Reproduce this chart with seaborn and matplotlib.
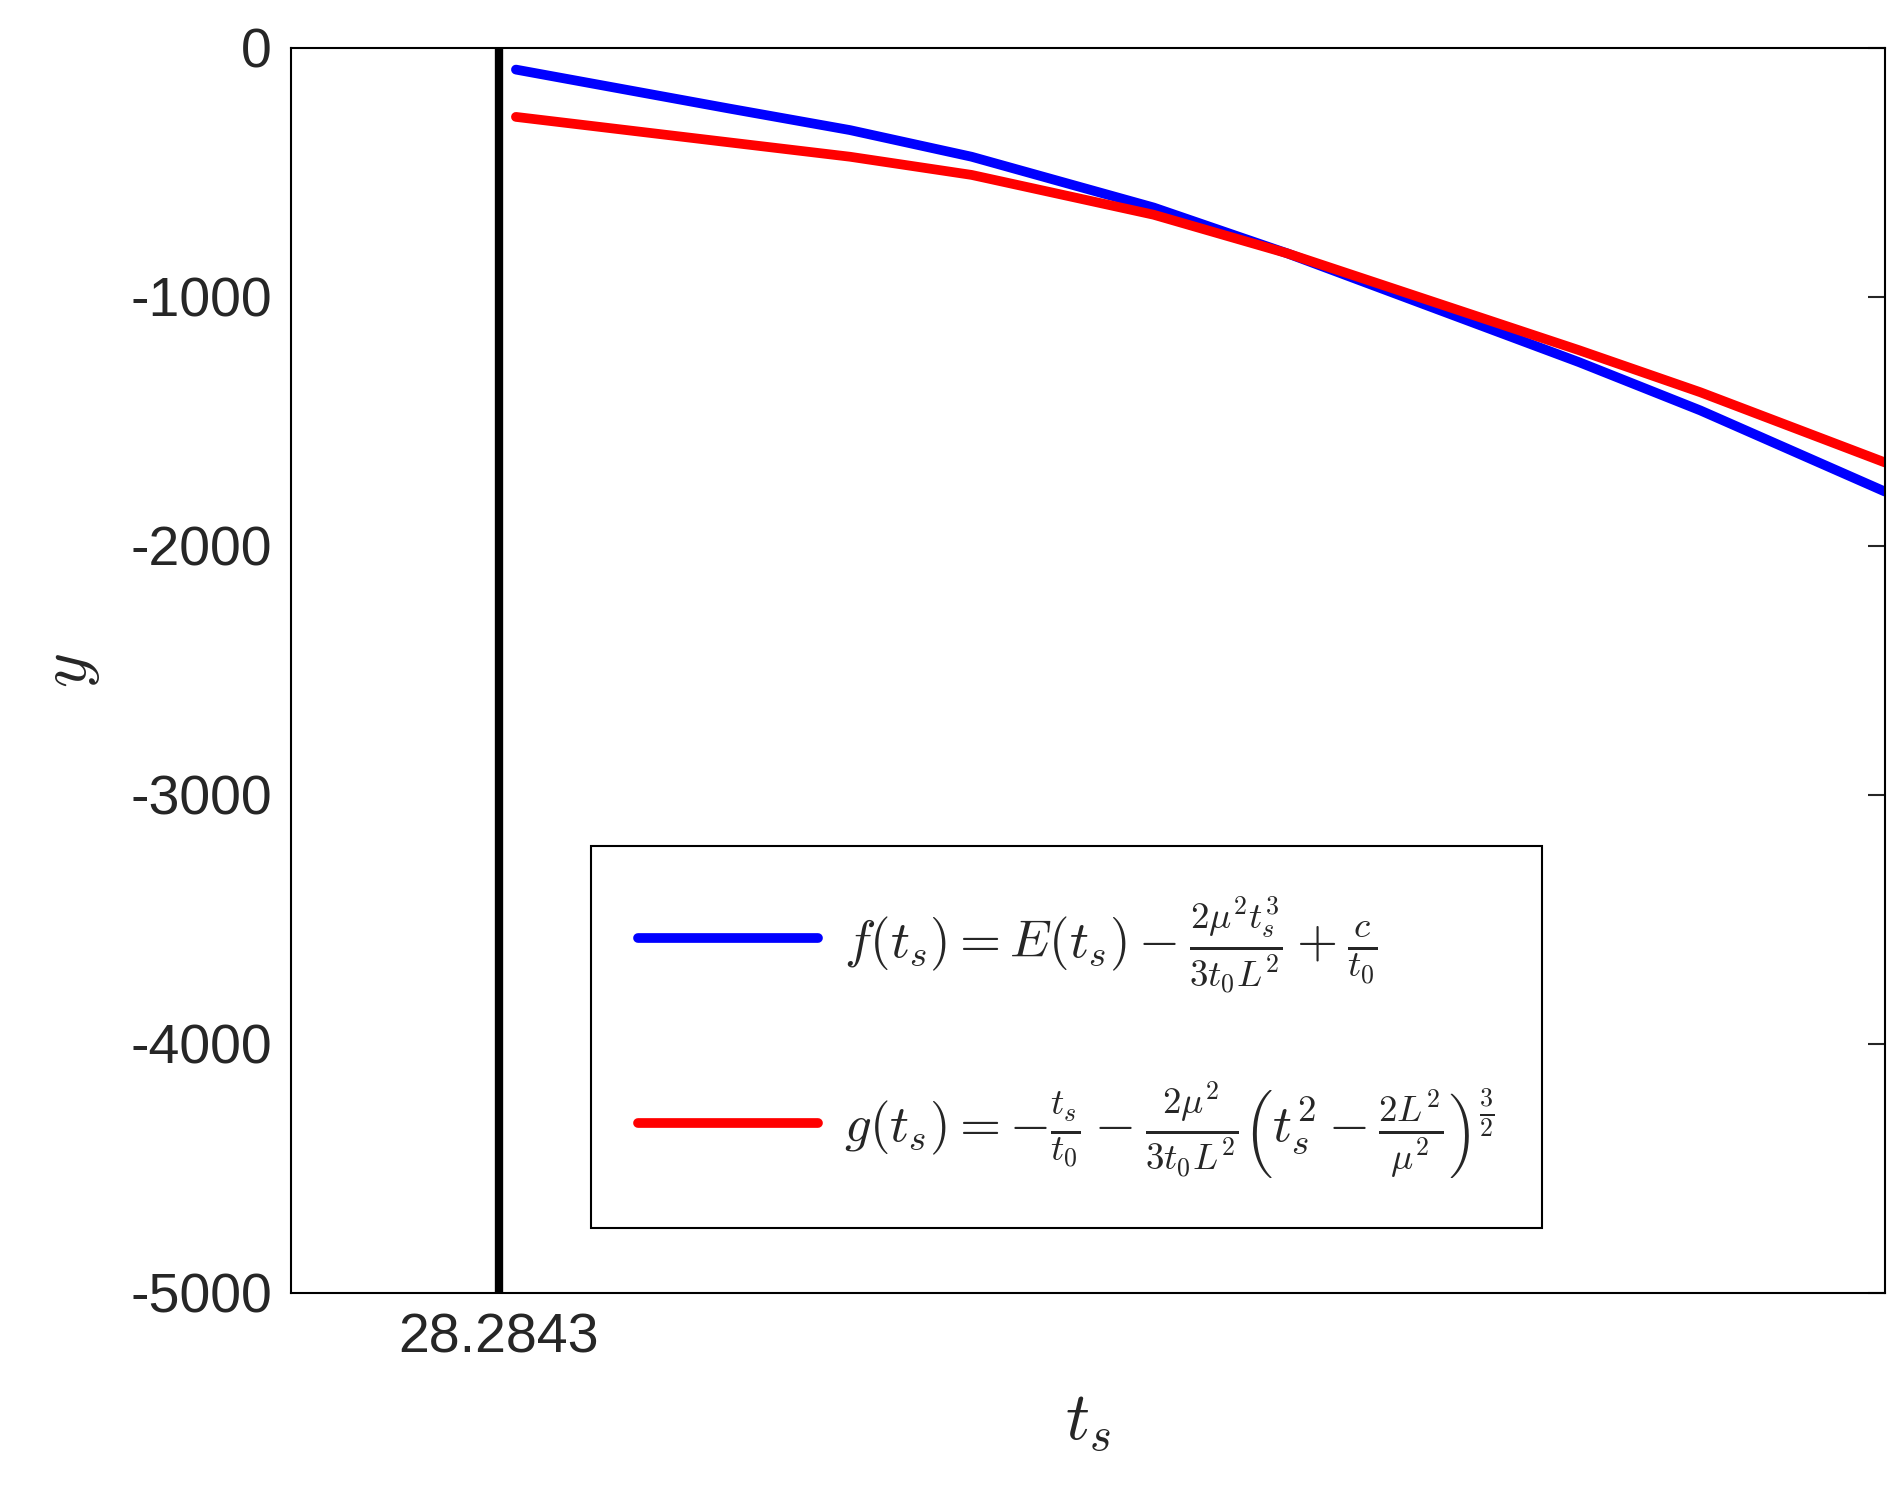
import numpy as np
import pandas as pd
import seaborn as sns
import matplotlib.pyplot as plt

# values
ts_vals = [29.18, 40.18, 46.46, 52.75, 62.17, 69.08, 84.17, 90.45, 100.0]
f_vals = [-87, -243, -330, -437, -641, -825, -1262, -1456, -1782]
g_vals = [-277, -379, -437, -510, -670, -825, -1214, -1383, -1665]
ts_crit = 28.2843

sns.set_style('white')
plt.rcParams['font.family'] = ['Liberation Sans', 'DejaVu Sans']
plt.rcParams['mathtext.fontset'] = 'cm'
plt.rcParams['axes.unicode_minus'] = False

df = pd.DataFrame({'ts': ts_vals * 2,
                   'y': f_vals + g_vals,
                   'curve': ['f'] * len(ts_vals) + ['g'] * len(ts_vals)})

fig = plt.figure(figsize=(19.04, 14.98), dpi=100)
ax = fig.add_axes([0.153, 0.137, 0.837, 0.831])

sns.lineplot(data=df, x='ts', y='y', hue='curve', palette={'f': '#0000ff', 'g': '#ff0000'},
             linewidth=7, ax=ax, legend=False)
ax.axvline(ts_crit, color='black', linewidth=6)

ax.set_xlim(17.56, 100)
ax.set_ylim(-5000, 0)
ax.set_xticks([ts_crit])
ax.set_xticklabels(['28.2843'])
ax.set_yticks([0, -1000, -2000, -3000, -4000, -5000])
ax.tick_params(axis='both', labelsize=40, direction='in', length=12, width=1.5, right=True, pad=14)
for s in ax.spines.values():
    s.set_linewidth(1.5)
    s.set_color('black')
ax.set_xlabel(r'$t_s$', fontsize=48, labelpad=20)
ax.set_ylabel(r'$y$', fontsize=48, labelpad=20)

lines = [plt.Line2D([], [], color='#0000ff', linewidth=7),
         plt.Line2D([], [], color='#ff0000', linewidth=7)]
labels = [r'$f(t_s) = E(t_s) - \frac{2\mu^2 t_s^3}{3t_0L^2} + \frac{c}{t_0}$',
          r'$g(t_s) = -\frac{t_s}{t_0} - \frac{2\mu^2}{3t_0L^2}\left(t_s^2 - \frac{2L^2}{\mu^2}\right)^{\frac{3}{2}}$']
leg = ax.legend(lines, labels, loc='lower left', bbox_to_anchor=(0.188, 0.052), fontsize=38,
                handlelength=3.4, handletextpad=0.5, labelspacing=1.6, borderpad=0.9,
                borderaxespad=0, fancybox=False, framealpha=1)
leg.get_frame().set_edgecolor('black')
leg.get_frame().set_linewidth(1.5)

fig.savefig('out.png', dpi=100)
